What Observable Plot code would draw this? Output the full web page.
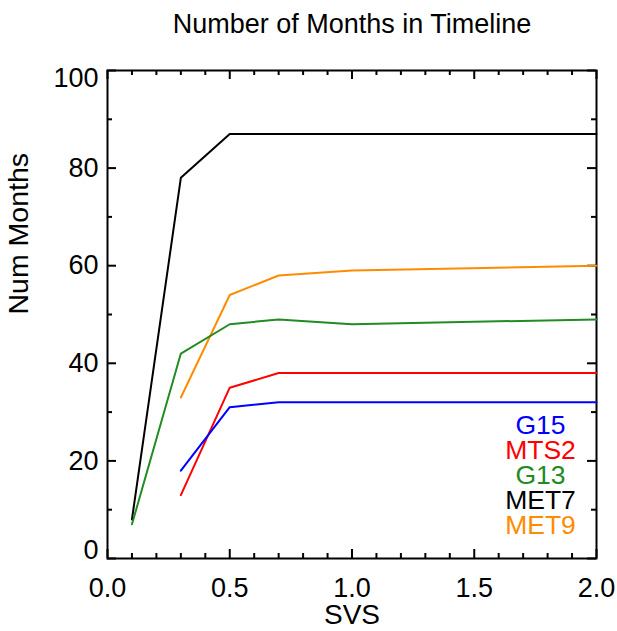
<!DOCTYPE html>
<html>
<head>
<meta charset="utf-8">
<script src="https://cdn.jsdelivr.net/npm/d3@7"></script>
<script src="https://cdn.jsdelivr.net/npm/@observablehq/plot@0.6"></script>
<style>
  html, body { margin: 0; padding: 0; background: #fff; }
  svg { display: block; }
</style>
</head>
<body>
<div id="chart"></div>
<script>
const title = "Number of Months in Timeline";
const xLabel = "SVS";
const yLabel = "Num Months";

const svs  = [0.1, 0.3, 0.5, 0.7, 1.0, 2.0];
const met7 = [8, 78, 87, 87, 87, 87];
const g13  = [7, 42, 48, 49, 48, 49];
const met9 = [null, 33, 54, 58, 59, 60];
const mts2 = [null, 13, 35, 38, 38, 38];
const g15  = [null, 18, 31, 32, 32, 32];

const seriesNames  = ["MET9", "MET7", "G13", "MTS2", "G15"];
const seriesValues = [met9, met7, g13, mts2, g15];
const seriesColors = ["#ff8c00", "#000000", "#228b22", "#ff0000", "#0000ff"];

const legendNames  = ["G15", "MTS2", "G13", "MET7", "MET9"];
const legendColors = ["#0000ff", "#ff0000", "#228b22", "#000000", "#ff8c00"];

const xMajor = [0.0, 0.5, 1.0, 1.5, 2.0];
const xMinor = [0.1,0.2,0.3,0.4,0.6,0.7,0.8,0.9,1.1,1.2,1.3,1.4,1.6,1.7,1.8,1.9];
const yMajor = [0, 20, 40, 60, 80, 100];
const yMinor = [10, 30, 50, 70, 90];
const yMid   = [20, 40, 60, 80];

const rows = [];
seriesNames.forEach((name, s) => {
  seriesValues[s].forEach((v, i) => {
    if (v != null) rows.push({series: name, svs: svs[i], months: v});
  });
});

const W = 617, H = 631;
const ML = 107, MR = 21, MT = 70, MB = 73;
const PW = W - ML - MR, PH = H - MT - MB;
const MAJ = 9, MIN = 5;
const FONT = "'Liberation Sans', Helvetica, Arial, sans-serif";
const TICKFS = 27;
const id = d => d;

const chart = Plot.plot({
  width: W,
  height: H,
  marginLeft: ML,
  marginRight: MR,
  marginTop: MT,
  marginBottom: MB,
  style: {fontFamily: FONT, background: "#fff", color: "#000"},
  x: {domain: [0, 2], axis: null},
  y: {domain: [0, 100], axis: null},
  color: {domain: seriesNames, range: seriesColors},
  marks: [
    // inward ticks on all four sides
    Plot.tickX(xMajor, {x: id, insetTop: PH - MAJ, stroke: "#000", strokeWidth: 2}),
    Plot.tickX(xMinor, {x: id, insetTop: PH - MIN, stroke: "#000", strokeWidth: 2}),
    Plot.tickX(xMajor, {x: id, insetBottom: PH - MAJ, stroke: "#000", strokeWidth: 2}),
    Plot.tickX(xMinor, {x: id, insetBottom: PH - MIN, stroke: "#000", strokeWidth: 2}),
    Plot.tickY(yMajor, {y: id, insetRight: PW - MAJ, stroke: "#000", strokeWidth: 2}),
    Plot.tickY(yMinor, {y: id, insetRight: PW - MIN, stroke: "#000", strokeWidth: 2}),
    Plot.tickY(yMajor, {y: id, insetLeft: PW - MAJ, stroke: "#000", strokeWidth: 2}),
    Plot.tickY(yMinor, {y: id, insetLeft: PW - MIN, stroke: "#000", strokeWidth: 2}),
    // tick labels
    Plot.axisX({anchor: "bottom", ticks: xMajor, tickSize: 0, tickPadding: 19, tickFormat: d3.format(".1f"), label: null, fontSize: TICKFS}),
    Plot.axisY({anchor: "left", ticks: yMid, tickSize: 0, tickPadding: 9, tickFormat: d3.format("d"), label: null, fontSize: TICKFS}),
    Plot.axisY({anchor: "left", ticks: [yMajor[5]], tickSize: 0, tickPadding: 9, tickFormat: d3.format("d"), label: null, fontSize: TICKFS, dy: 8}),
    Plot.axisY({anchor: "left", ticks: [yMajor[0]], tickSize: 0, tickPadding: 9, tickFormat: d3.format("d"), label: null, fontSize: TICKFS, dy: -8}),
    Plot.frame({stroke: "#000", strokeWidth: 2}),
    Plot.line(rows, {x: "svs", y: "months", z: "series", stroke: "series", strokeWidth: 2}),
    // legend
    ...legendNames.map((name, i) => Plot.text([name], {
      frameAnchor: "bottom-right", dx: -56, dy: -133 + 25 * i, lineAnchor: "middle",
      text: id, fill: legendColors[i], fontSize: 26.5, textAnchor: "middle"
    })),
    // title and axis labels
    Plot.text([title], {frameAnchor: "top", dy: -46, lineAnchor: "middle", text: id, fontSize: 27, fill: "#000"}),
    Plot.text([xLabel], {frameAnchor: "bottom", dy: 57, lineAnchor: "middle", text: id, fontSize: 28, fill: "#000"}),
    Plot.text([yLabel], {frameAnchor: "left", dx: -89, rotate: -90, lineAnchor: "middle", text: id, fontSize: 28.5, fill: "#000"})
  ]
});

document.getElementById("chart").appendChild(chart);
</script>
</body>
</html>
